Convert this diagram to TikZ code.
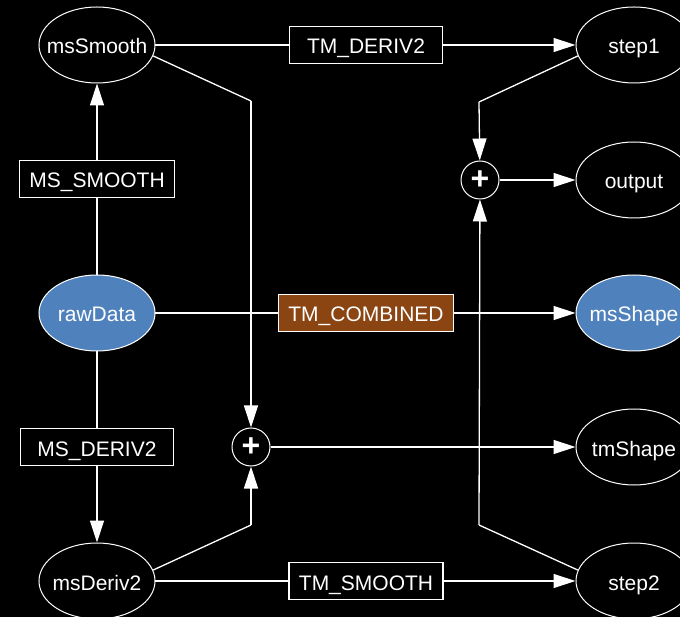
\documentclass[tikz,border=0pt]{standalone}
\usepackage{fontspec}
\setmainfont{Liberation Sans}
\usetikzlibrary{arrows.meta,shapes.geometric}
\definecolor{stateblue}{RGB}{79,129,189}
\definecolor{opbrown}{RGB}{139,69,19}
\newcommand{\ctrtext}[1]{\makebox[0pt]{#1}}
\begin{document}
\begin{tikzpicture}[x=1pt,y=-1pt,
  every node/.style={text=white,font=\fontsize{21}{25}\selectfont},
  labeltext/.style={text height=18pt,text depth=0pt},
  state/.style={ellipse,draw=white,line width=1pt,fill=black,labeltext,
    minimum width=116pt,minimum height=76pt,inner sep=0pt},
  given/.style={state,fill=stateblue},
  op/.style={rectangle,draw=white,line width=1.2pt,fill=black,labeltext,
    minimum width=153pt,minimum height=37pt,inner xsep=10pt,inner ysep=0pt},
  combo/.style={op,fill=opbrown,minimum width=173pt},
  sumnode/.style={circle,draw=white,line width=1pt,fill=black,
    minimum size=38pt,inner sep=0pt,font=\fontsize{32}{32}\bfseries},
  link/.style={draw=white,line width=1.3pt},
  arr/.style={link,-{Triangle[length=22pt,width=14pt]}}]

% background and frame
\fill[black] (0,0) rectangle (680,617);
\useasboundingbox (0,0) rectangle (680,617);
\clip (0,0) rectangle (680,617);

% bend points of the routed connectors
\coordinate (b1) at (251,101);
\coordinate (b2) at (251,525);
\coordinate (b3) at (479,102);
\coordinate (b4) at (479,525);

% straight connectors that pass behind the operator boxes
\path[link] (97,313) -- (97,179);
\path[link] (97,313) -- (97,447);
\path[link] (97,45) -- (366,45);
\path[link] (97,581) -- (366,581);
\path[link] (97,313) -- (366,313);

% nodes
\node[state] (msSmooth) at (97,45) {\ctrtext{msSmooth}};
\node[given] (rawData) at (97,313) {\ctrtext{rawData}};
\node[state] (msDeriv2) at (97,581) {\ctrtext{msDeriv2}};
\node[state] (step1) at (634,45) {\ctrtext{step1}};
\node[state] (output) at (634,180) {\ctrtext{output}};
\node[given] (msShape) at (634,313) {\ctrtext{msShape}};
\node[state] (tmShape) at (634,447) {\ctrtext{tmShape}};
\node[state] (step2) at (634,581) {\ctrtext{step2}};
\node[op] (msSmoothOp) at (97,179) {MS\_SMOOTH};
\node[op] (msDerivOp) at (97,447) {MS\_DERIV2};
\node[op] (tmDerivOp) at (366,45) {TM\_DERIV2};
\node[combo] (tmCombOp) at (366,313) {TM\_COMBINED};
\node[op] (tmSmoothOp) at (366,581) {TM\_SMOOTH};
\node[sumnode] (sumA) at (480,180) {+};
\node[sumnode] (sumB) at (251,447) {+};

% operator outputs
\draw[arr] (msSmoothOp) -- (msSmooth);
\draw[arr] (msDerivOp) -- (msDeriv2);
\draw[arr] (tmDerivOp) -- (step1);
\draw[arr] (tmSmoothOp) -- (step2);
\draw[arr] (tmCombOp) -- (msShape);

% sums
\draw[link] (msSmooth.-11) -- (b1);
\draw[arr] (b1) -- (sumB);
\draw[link] (msDeriv2.11) -- (b2);
\draw[arr] (b2) -- (sumB);
\draw[arr] (sumB) -- (tmShape);
\draw[link] (step1.191) -- (b3);
\draw[arr] (b3) -- (sumA);
\draw[link] (step2.169) -- (b4);
\draw[arr] (b4) -- (sumA);
\draw[arr] (sumA) -- (output);
\end{tikzpicture}
\end{document}
